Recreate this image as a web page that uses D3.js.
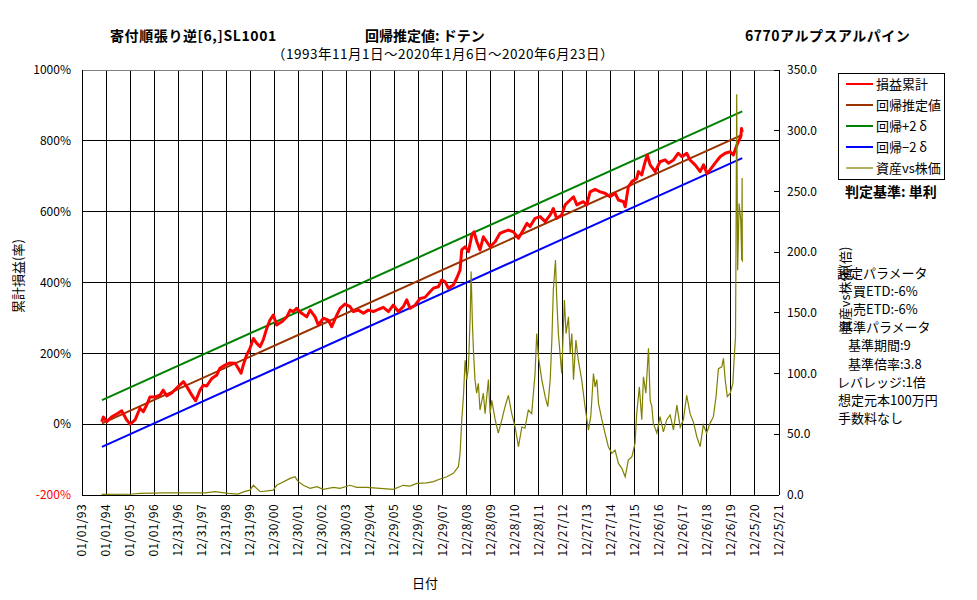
<!DOCTYPE html>
<html>
<head>
<meta charset="utf-8">
<script src="https://cdn.jsdelivr.net/npm/d3@7"></script>
<style>
body { margin: 0; background: #fff; }
svg { display: block; }
text { font-family: "Noto Sans CJK JP", "Noto Sans", sans-serif; }
</style>
</head>
<body>
<script>
// x axis tick labels (MM/DD/YY)
const xTickLabels = ["01/01/93","01/01/94","01/01/95","01/01/96","12/31/96","12/31/97","12/31/98","12/31/99",
  "12/30/00","12/30/01","12/30/02","12/30/03","12/29/04","12/29/05","12/29/06","12/29/07","12/28/08","12/28/09",
  "12/28/10","12/28/11","12/27/12","12/27/13","12/27/14","12/27/15","12/26/16","12/26/17","12/26/18","12/26/19",
  "12/25/20","12/25/21"];
const leftTicks = [-200, 0, 200, 400, 600, 800, 1000];
const rightTicks = [0, 50, 100, 150, 200, 250, 300, 350];

// 損益累計 (%), time as decimal year
const pnlYears = [1993.82,1993.89,1994.03,1994.24,1994.50,1994.65,1994.86,1995.00,1995.21,1995.41,1995.55,1995.69,
  1995.83,1996.04,1996.25,1996.38,1996.52,1996.73,1996.94,1997.22,1997.36,1997.57,1997.73,1997.91,1998.05,1998.19,
  1998.40,1998.61,1998.74,1998.95,1999.16,1999.37,1999.50,1999.62,1999.71,1999.85,1999.99,2000.13,2000.27,2000.41,
  2000.54,2000.69,2000.82,2000.96,2001.10,2001.31,2001.52,2001.66,2001.79,2001.93,2002.14,2002.35,2002.49,2002.70,
  2002.83,2003.04,2003.25,2003.39,2003.60,2003.74,2003.94,2004.15,2004.29,2004.50,2004.71,2004.91,2005.12,2005.33,
  2005.54,2005.75,2005.95,2006.16,2006.37,2006.51,2006.65,2006.86,2007.07,2007.27,2007.48,2007.62,2007.83,2007.97,
  2008.11,2008.24,2008.45,2008.59,2008.73,2008.80,2008.94,2009.08,2009.22,2009.31,2009.43,2009.56,2009.70,2009.84,
  2009.98,2010.19,2010.39,2010.53,2010.74,2010.95,2011.16,2011.36,2011.51,2011.64,2011.85,2012.06,2012.27,2012.48,
  2012.61,2012.75,2012.96,2013.10,2013.31,2013.45,2013.59,2013.72,2013.86,2014.00,2014.14,2014.35,2014.56,2014.76,
  2014.97,2015.18,2015.32,2015.53,2015.60,2015.73,2015.88,2016.08,2016.15,2016.29,2016.43,2016.52,2016.64,2016.85,
  2017.05,2017.26,2017.40,2017.61,2017.81,2017.96,2018.16,2018.30,2018.51,2018.72,2018.86,2019.00,2019.13,2019.34,
  2019.55,2019.76,2019.97,2020.10,2020.25,2020.31,2020.41,2020.44,2020.47];
const pnlValues = [7,20,7,21,31,38,12,0,12,45,35,54,
  77,77,82,96,80,88,102,120,106,82,66,96,110,108,
  129,139,158,167,173,172,158,144,167,195,214,242,228,219,
  238,271,294,308,280,289,303,322,318,327,313,303,322,303,
  280,299,294,275,308,327,339,332,318,322,313,322,318,324,
  330,318,336,318,332,351,327,336,355,358,374,384,388,407,
  402,384,393,412,435,492,501,487,534,543,515,492,529,515,
  501,515,539,543,548,543,525,548,567,558,581,586,572,591,
  609,581,591,619,633,642,619,624,628,619,656,663,656,652,
  642,652,633,628,614,670,685,694,713,704,741,760,732,713,
  741,746,737,746,765,755,765,746,732,713,732,708,718,737,
  755,765,769,760,788,798,812,835,825];

// 資産vs株価 (倍)
const ratioYears = [1993.82,1995.00,1995.41,1996.45,1997.49,1998.12,1998.53,1999.08,1999.49,1999.78,1999.99,2000.13,
  2000.41,2000.96,2001.10,2001.66,2001.86,2002.00,2002.21,2002.49,2002.77,2003.04,2003.46,2003.74,2004.15,2004.43,
  2004.85,2005.40,2005.95,2006.37,2006.65,2006.93,2007.34,2007.62,2007.87,2008.18,2008.45,2008.66,2008.73,2008.80,
  2008.87,2008.94,2009.01,2009.08,2009.15,2009.19,2009.24,2009.28,2009.35,2009.42,2009.49,2009.56,2009.70,2009.77,
  2009.91,2009.98,2010.05,2010.19,2010.32,2010.47,2010.60,2010.74,2010.88,2011.02,2011.16,2011.30,2011.43,2011.57,
  2011.71,2011.85,2011.92,2011.99,2012.13,2012.27,2012.38,2012.48,2012.55,2012.61,2012.70,2012.75,2012.82,2012.89,
  2012.96,2013.07,2013.14,2013.24,2013.31,2013.38,2013.45,2013.55,2013.65,2013.79,2013.93,2014.07,2014.17,2014.28,
  2014.35,2014.42,2014.49,2014.63,2014.76,2014.90,2015.04,2015.18,2015.32,2015.46,2015.60,2015.73,2015.88,2016.01,
  2016.08,2016.19,2016.29,2016.36,2016.46,2016.57,2016.64,2016.71,2016.77,2016.92,2017.05,2017.19,2017.33,2017.47,
  2017.61,2017.75,2017.89,2018.02,2018.16,2018.30,2018.44,2018.58,2018.72,2018.85,2018.99,2019.13,2019.27,2019.38,
  2019.48,2019.62,2019.69,2019.76,2019.85,2019.97,2020.08,2020.13,2020.19,2020.21,2020.24,2020.28,2020.34,2020.38,
  2020.41,2020.45,2020.465,2020.475];
const ratioValues = [0.5,0.6,1.4,1.8,1.8,1.8,2.7,1.4,0.8,3,4,8,
  2.7,4,8,13.7,15,11,8,5.5,6.9,4.7,6.3,5.5,8,6.3,
  6.3,5.5,4.7,8,7.4,9.6,10,11,13,15,17.9,23.3,34.3,61.8,
  81,111,95,105.6,146.8,184,144,122,95,83.8,92,70,83.8,67,
  95,67,78,62,51,62,72.7,82,67,56,39.8,56,55,70,
  67,100,133,114,95,81,72.7,95,127.6,168.8,193.5,163,133,116.7,
  100,160.6,133,146.8,116.7,133,95,127.6,111,95,72.7,53.5,65,100,
  89,95,75.5,62,51,39.8,34.3,37,26,22,15,28.8,31.5,42.6,
  67,89,62,97.4,83.8,120.8,78,72.7,59,51,64.5,52,62,66,
  53.5,74,56,62,82,67,60,48,39.8,57.6,51,59,64.5,81,
  104,105.6,112.6,95,81,83.8,92,111,130,199,330,185,240,232,
  226,193.5,261,192];

// 回帰推定値 (start / end) and 2σ band width
const regYears = [1993.83, 2020.47];
const regValues = [2, 817];
const regBand = 66;

const W = 977, H = 600;
const M = { left: 82, right: 779, top: 70, bottom: 495 };

const base = Date.UTC(1993, 0, 1);
const yearToDate = t => new Date(base + (t - 1993) * 365 * 864e5);
const parseTick = d3.utcParse("%m/%d/%y");
const tickDates = xTickLabels.map(parseTick);

const x = d3.scaleUtc().domain([tickDates[0], tickDates[tickDates.length - 1]]).range([M.left, M.right]);
const yL = d3.scaleLinear().domain([-200, 1000]).range([M.bottom, M.top]);
const yR = d3.scaleLinear().domain([0, 350]).range([M.bottom, M.top]);

const svg = d3.select("body").append("svg").attr("width", W).attr("height", H);

// gridlines
const grid = svg.append("g").attr("stroke", "#000").attr("stroke-width", 1).attr("shape-rendering", "crispEdges");
grid.selectAll("line.h").data(leftTicks.slice(1, -1)).join("line")
  .attr("x1", M.left).attr("x2", M.right).attr("y1", d => yL(d)).attr("y2", d => yL(d));
grid.selectAll("line.v").data(tickDates.slice(1, -1)).join("line")
  .attr("y1", M.top).attr("y2", M.bottom).attr("x1", d => x(d)).attr("x2", d => x(d));

// frame
svg.append("line").attr("x1", M.left).attr("x2", M.right).attr("y1", M.top).attr("y2", M.top)
  .attr("stroke", "#808080").attr("shape-rendering", "crispEdges");
const frame = svg.append("g").attr("stroke", "#000").attr("shape-rendering", "crispEdges");
frame.append("line").attr("x1", M.left).attr("x2", M.left).attr("y1", M.top).attr("y2", M.bottom);
frame.append("line").attr("x1", M.right).attr("x2", M.right).attr("y1", M.top).attr("y2", M.bottom);
frame.append("line").attr("x1", M.left).attr("x2", M.right).attr("y1", M.bottom).attr("y2", M.bottom);

// left axis labels
svg.append("g").selectAll("text").data(leftTicks).join("text")
  .attr("x", M.left - 11).attr("y", d => yL(d)).attr("dy", "0.35em")
  .attr("text-anchor", "end").attr("font-size", 12)
  .attr("fill", d => d < 0 ? "#ff0000" : "#000")
  .text(d => d + "%");

// right axis ticks + labels
const rAx = svg.append("g");
rAx.selectAll("line").data(rightTicks).join("line")
  .attr("x1", M.right - 5).attr("x2", M.right).attr("y1", d => yR(d)).attr("y2", d => yR(d))
  .attr("stroke", "#000").attr("shape-rendering", "crispEdges");
rAx.selectAll("text").data(rightTicks).join("text")
  .attr("x", M.right + 8).attr("y", d => yR(d)).attr("dy", "0.35em")
  .attr("font-size", 12).text(d => d.toFixed(1));

// x labels, rotated
svg.append("g").selectAll("text").data(tickDates).join("text")
  .attr("transform", d => `translate(${x(d) + 4},${M.bottom + 9}) rotate(-90)`)
  .attr("text-anchor", "end").attr("font-size", 12).attr("letter-spacing", 0.4)
  .text((d, i) => xTickLabels[i]);

// regression lines
const regLine = off => d3.line().x(d => x(yearToDate(d[0]))).y(d => yL(d[1] + off))(d3.zip(regYears, regValues));
svg.append("path").attr("d", regLine(regBand)).attr("fill", "none").attr("stroke", "#008000").attr("stroke-width", 2);
svg.append("path").attr("d", regLine(-regBand)).attr("fill", "none").attr("stroke", "#0000ff").attr("stroke-width", 2);
svg.append("path").attr("d", regLine(0)).attr("fill", "none").attr("stroke", "#993300").attr("stroke-width", 2);

// cumulative P&L
const pnlLine = d3.line().x(d => x(yearToDate(d[0]))).y(d => yL(d[1]));
svg.append("path").attr("d", pnlLine(d3.zip(pnlYears, pnlValues)))
  .attr("fill", "none").attr("stroke", "#ff0000").attr("stroke-width", 3).attr("stroke-linejoin", "round");

// ratio (right axis)
const ratioLine = d3.line().x(d => x(yearToDate(d[0]))).y(d => yR(d[1]));
svg.append("path").attr("d", ratioLine(d3.zip(ratioYears, ratioValues)))
  .attr("fill", "none").attr("stroke", "#808000").attr("stroke-width", 1.2);

// titles
const t = svg.append("g").attr("font-size", 14);
t.append("text").attr("x", 110).attr("y", 41).attr("font-weight", "bold").attr("letter-spacing", 0.6)
  .text("寄付順張り逆[6,]SL1001");
t.append("text").attr("x", 365).attr("y", 41).attr("font-weight", "bold").text("回帰推定値: ドテン");
t.append("text").attr("x", 745).attr("y", 41).attr("font-weight", "bold").attr("letter-spacing", 0.5)
  .text("6770アルプスアルパイン");
t.append("text").attr("x", 443).attr("y", 59).attr("text-anchor", "middle").attr("font-size", 13.5)
  .attr("letter-spacing", 0.5)
  .text("（1993年11月1日～2020年1月6日～2020年6月23日）");

// axis titles
svg.append("text").attr("transform", "translate(23,276) rotate(-90)").attr("text-anchor", "middle")
  .attr("font-size", 13).text("累計損益(率)");
svg.append("text").attr("transform", "translate(850,290) rotate(-90)").attr("text-anchor", "middle")
  .attr("font-size", 13).text("資産vs株価(倍)");
svg.append("text").attr("x", 425).attr("y", 588).attr("text-anchor", "middle")
  .attr("font-size", 13).text("日付");

// legend
const legendNames = ["損益累計", "回帰推定値", "回帰+2 δ", "回帰−2 δ", "資産vs株価"];
const legendColors = ["#ff0000", "#993300", "#008000", "#0000ff", "#808000"];
const lg = svg.append("g");
lg.append("rect").attr("x", 838.5).attr("y", 73.5).attr("width", 106).attr("height", 106)
  .attr("fill", "#fff").attr("stroke", "#000");
const li = lg.selectAll("g").data(legendNames).join("g")
  .attr("transform", (d, i) => `translate(0,${84 + i * 21})`);
li.append("line").attr("x1", 846).attr("x2", 873)
  .attr("stroke", (d, i) => legendColors[i]).attr("stroke-width", (d, i) => i === 4 ? 1.2 : 2);
li.append("text").attr("x", 876).attr("dy", "0.38em").attr("font-size", 13).text(d => d);

svg.append("text").attr("x", 845).attr("y", 197).attr("font-size", 14).attr("font-weight", "bold")
  .text("判定基準: 単利");

// parameter notes
const notes = [
  ["設定パラメータ", 837], ["買ETD:-6%", 853], ["売ETD:-6%", 853], ["基準パラメータ", 840],
  ["基準期間:9", 848], ["基準倍率:3.8", 848], ["レバレッジ:1倍", 837], ["想定元本100万円", 838], ["手数料なし", 838]
];
svg.append("g").selectAll("text").data(notes).join("text")
  .attr("x", d => d[1]).attr("y", (d, i) => 278 + i * 18.1).attr("font-size", 13)
  .text(d => d[0]);
</script>
</body>
</html>
